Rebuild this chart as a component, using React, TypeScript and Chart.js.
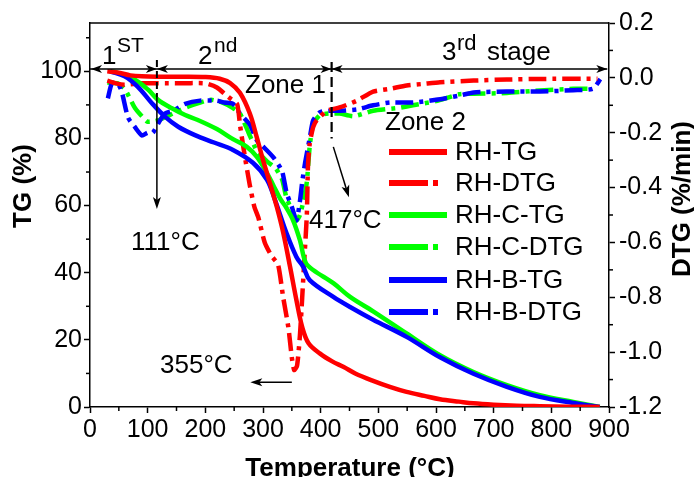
import React, { useEffect, useRef } from "react";
import { Chart, registerables } from "chart.js";

Chart.register(...registerables);

// ---------------- data ----------------
const rhTgT = [30, 50, 70, 90, 120, 160, 200, 225, 243, 260, 277, 289, 300, 312, 324, 335, 347, 358, 368, 379, 399, 420, 440, 460, 491, 520, 549, 580, 607, 640, 665, 700, 740, 780, 830, 884];
const rhTgV = [100, 99.6, 98.8, 98.5, 98.4, 98.4, 98.3, 97.8, 96.5, 93.6, 87.5, 80.5, 73.6, 66.7, 59.6, 52, 41.7, 31.8, 23.8, 19, 15.9, 13.6, 11.9, 10, 7.8, 6, 4.5, 3.3, 2.3, 1.6, 1.1, 0.7, 0.4, 0.25, 0.1, 0];

const rhDtgT = [30, 45, 60, 90, 150, 200, 220, 240, 255, 260, 268, 277, 285, 292, 303, 315, 326, 335, 344, 350, 354, 359, 364, 368, 372, 376, 378, 381, 387, 393, 411, 433, 463, 491, 520, 549, 578, 607, 665, 723, 780, 880];
const rhDtgV = [-0.01, -0.02, -0.025, -0.02, -0.02, -0.02, -0.035, -0.07, -0.095, -0.17, -0.28, -0.39, -0.47, -0.51, -0.6, -0.65, -0.68, -0.8, -0.91, -1.02, -1.065, -1.05, -0.94, -0.8, -0.65, -0.5, -0.32, -0.24, -0.18, -0.155, -0.12, -0.108, -0.083, -0.05, -0.04, -0.028, -0.022, -0.016, -0.01, -0.006, -0.004, -0.003];

const rhcTgT = [35, 49, 78, 101, 118, 142, 165, 187, 220, 248, 272, 289, 306, 318, 330, 340, 352, 364, 374, 387, 422, 451, 491, 549, 607, 665, 723, 780, 838, 884];
const rhcTgV = [100, 99.5, 97.5, 94.5, 91.5, 89, 87, 85.5, 82.8, 79.8, 77.5, 74.6, 70, 66, 62, 59.5, 55.7, 49.7, 43, 40.8, 36.9, 32.8, 28.5, 21.9, 15.4, 10.4, 6.5, 3.5, 1.5, 0];

const rhcDtgT = [30, 48, 60, 68, 78, 90, 100, 118, 144, 170, 191, 210, 230, 248, 260, 275, 290, 300, 310, 322, 333, 341, 350, 358, 364, 370, 376, 381, 387, 399, 416, 433, 457, 491, 534, 560, 600, 640, 665, 723, 780, 838, 870];
const rhcDtgV = [-0.017, -0.02, -0.04, -0.07, -0.11, -0.14, -0.16, -0.155, -0.13, -0.105, -0.09, -0.08, -0.09, -0.11, -0.13, -0.2, -0.27, -0.29, -0.31, -0.33, -0.37, -0.44, -0.48, -0.52, -0.5, -0.45, -0.38, -0.25, -0.17, -0.135, -0.13, -0.13, -0.14, -0.12, -0.11, -0.1, -0.085, -0.06, -0.058, -0.055, -0.046, -0.04, -0.04];

const rhbTgT = [35, 60, 83, 107, 130, 153, 182, 215, 248, 283, 307, 321, 341, 358, 370, 381, 422, 451, 491, 549, 607, 665, 723, 780, 838, 884];
const rhbTgV = [100, 98.5, 95.4, 90.6, 86.5, 83.5, 81, 78.8, 76.6, 72.7, 67.7, 61.6, 51.7, 44.7, 41.7, 37.8, 32.8, 29.8, 26, 20.9, 14.8, 9.9, 6, 3, 1.2, 0];

const rhbDtgT = [31, 38, 48, 55, 66, 78, 90, 100, 109, 120, 130, 144, 165, 191, 220, 233, 248, 260, 277, 290, 300, 318, 333, 341, 350, 358, 364, 368, 373, 381, 387, 399, 416, 433, 463, 491, 520, 560, 600, 640, 665, 723, 780, 838, 872, 885];
const rhbDtgV = [-0.075, -0.02, -0.02, -0.05, -0.145, -0.18, -0.21, -0.2, -0.2, -0.16, -0.13, -0.12, -0.095, -0.083, -0.083, -0.09, -0.095, -0.13, -0.17, -0.23, -0.25, -0.29, -0.34, -0.42, -0.47, -0.52, -0.45, -0.38, -0.31, -0.22, -0.155, -0.125, -0.12, -0.12, -0.115, -0.1, -0.09, -0.09, -0.08, -0.065, -0.053, -0.05, -0.05, -0.045, -0.04, -0.005];

const seriesLabels = ["RH-TG", "RH-DTG", "RH-C-TG", "RH-C-DTG", "RH-B-TG", "RH-B-DTG"];
const seriesColors = ["#ff0000", "#ff0000", "#00ff00", "#00ff00", "#0000ff", "#0000ff"];

const stageBounds = [116, 419]; // °C boundaries between stages
const peakLabels = ["111°C", "355°C", "417°C"];

const FONT = "'Liberation Sans', Arial, Helvetica, sans-serif";

const zip = (t: number[], v: number[]) => t.map((x, i) => ({ x, y: v[i] }));

function arrowHead(ctx: CanvasRenderingContext2D, x: number, y: number, ang: number, len = 11, half = 4) {
  ctx.save();
  ctx.translate(x, y);
  ctx.rotate(ang);
  ctx.beginPath();
  ctx.moveTo(0, 0);
  ctx.lineTo(-len, -half);
  ctx.lineTo(-len + 3, 0);
  ctx.lineTo(-len, half);
  ctx.closePath();
  ctx.fill();
  ctx.restore();
}

function seg(ctx: CanvasRenderingContext2D, x1: number, y1: number, x2: number, y2: number) {
  ctx.beginPath();
  ctx.moveTo(x1, y1);
  ctx.lineTo(x2, y2);
  ctx.stroke();
}

const overlayPlugin = {
  id: "overlay",
  afterDraw(chart: any) {
    const ctx: CanvasRenderingContext2D = chart.ctx;
    const { left, right, top, bottom } = chart.chartArea;
    const xs = chart.scales.x;
    const ys = chart.scales.y;
    const y1 = chart.scales.y1;
    ctx.save();
    ctx.strokeStyle = "#000";
    ctx.fillStyle = "#000";
    ctx.lineWidth = 1.5;
    // top frame
    seg(ctx, left, top, right, top);
    // minor ticks
    for (let v = 50; v < 900; v += 100) {
      const px = xs.getPixelForValue(v);
      seg(ctx, px, bottom, px, bottom + 4);
    }
    for (let v = 10; v < 115; v += 20) {
      const py = ys.getPixelForValue(v);
      seg(ctx, left, py, left - 4, py);
    }
    for (let i = -11; i <= 1; i += 2) {
      const py = y1.getPixelForValue(i / 10);
      seg(ctx, right, py, right + 4, py);
    }

    // stage arrow line
    const ay = ys.getPixelForValue(100.7);
    const sx1 = xs.getPixelForValue(stageBounds[0]);
    const sx2 = xs.getPixelForValue(stageBounds[1]);
    const endX = xs.getPixelForValue(897);
    ctx.lineWidth = 1.5;
    seg(ctx, left, ay, endX, ay);
    arrowHead(ctx, left + 1, ay, Math.PI);
    arrowHead(ctx, sx1, ay, 0);
    arrowHead(ctx, sx1, ay, Math.PI);
    arrowHead(ctx, sx2, ay, 0);
    arrowHead(ctx, sx2, ay, Math.PI);
    arrowHead(ctx, endX, ay, 0);

    // vertical at stage 1 boundary (111°C)
    ctx.lineWidth = 2;
    ctx.setLineDash([7, 4]);
    seg(ctx, sx1, ay - 9, sx1, ay + 28);
    ctx.setLineDash([]);
    ctx.lineWidth = 1.5;
    const tip1 = ys.getPixelForValue(59);
    seg(ctx, sx1, ay + 28, sx1, tip1 - 6);
    arrowHead(ctx, sx1, tip1, Math.PI / 2, 12, 4);

    // vertical dashed at zone boundary (417°C)
    ctx.lineWidth = 2.2;
    ctx.setLineDash([10, 5]);
    seg(ctx, sx2, ay - 7, sx2, ys.getPixelForValue(80));
    ctx.setLineDash([]);
    ctx.lineWidth = 1.5;
    const dx1 = xs.getPixelForValue(422), dy1 = ys.getPixelForValue(77.5);
    const dx2 = xs.getPixelForValue(449), dy2 = ys.getPixelForValue(62.5);
    seg(ctx, dx1, dy1, dx2 - (dx2 - dx1) * 0.15, dy2 - (dy2 - dy1) * 0.15);
    arrowHead(ctx, dx2, dy2, Math.atan2(dy2 - dy1, dx2 - dx1), 12, 4);

    // 355 arrow
    const hy = ys.getPixelForValue(7.4);
    const hx1 = xs.getPixelForValue(350), hx2 = xs.getPixelForValue(278);
    seg(ctx, hx1, hy, hx2 + 6, hy);
    arrowHead(ctx, hx2, hy, Math.PI, 12, 4);

    // texts
    ctx.textBaseline = "alphabetic";
    ctx.textAlign = "left";
    const t = (s: string, x: number, y: number, size = 26, bold = false) => {
      ctx.font = `${bold ? "bold " : ""}${size}px ${FONT}`;
      ctx.fillText(s, x, y);
    };
    t("1", 102, 64);
    t("ST", 117, 52, 21);
    t("2", 198, 64);
    t("nd", 214, 52, 21);
    t("3", 442, 60);
    t("rd", 457, 50, 22);
    t("stage", 487, 60);
    t("Zone 1", 245, 93);
    t("Zone 2", 385, 130);
    t(peakLabels[0], 131, 250);
    t(peakLabels[2], 309, 228);
    t(peakLabels[1], 160, 373);

    // axis titles
    ctx.font = `bold 26px ${FONT}`;
    ctx.textAlign = "center";
    ctx.fillText("Temperature (°C)", 350, 476);
    ctx.textBaseline = "middle";
    ctx.save();
    ctx.translate(24, 186);
    ctx.rotate(-Math.PI / 2);
    ctx.fillText("TG (%)", 0, 0);
    ctx.restore();
    ctx.save();
    ctx.translate(683, 199);
    ctx.rotate(-Math.PI / 2);
    ctx.fillText("DTG (%/min)", 0, 0);
    ctx.restore();

    // legend
    const rows = [152, 183, 215, 247, 280, 312];
    chart.data.datasets.forEach((ds: any, i: number) => {
      const y = rows[i];
      ctx.strokeStyle = ds.borderColor;
      ctx.lineWidth = 6;
      ctx.lineCap = "butt";
      if (ds.borderDash && ds.borderDash.length) {
        seg(ctx, 389, y, 428, y);
        seg(ctx, 433, y, 438, y);
      } else {
        seg(ctx, 389, y, 447, y);
      }
      ctx.fillStyle = "#000";
      ctx.font = `26px ${FONT}`;
      ctx.textAlign = "left";
      ctx.textBaseline = "middle";
      ctx.fillText(ds.label, 455, y + 1);
    });
    ctx.restore();
  },
};

export default function App() {
  const ref = useRef<HTMLCanvasElement | null>(null);
  useEffect(() => {
    if (!ref.current) return;
    Chart.defaults.font.family = FONT;
    Chart.defaults.color = "#000";
    const mk = (i: number, t: number[], v: number[], dtg: boolean, order: number) => ({
      label: seriesLabels[i],
      data: zip(t, v),
      borderColor: seriesColors[i],
      backgroundColor: seriesColors[i],
      borderWidth: 4.5,
      borderDash: dtg ? [18, 6, 4, 6] : [],
      pointRadius: 0,
      tension: dtg ? 0.2 : 0.35,
      yAxisID: dtg ? "y1" : "y",
      order,
      fill: false,
    });
    const chart = new Chart(ref.current, {
      type: "line",
      data: {
        datasets: [
          mk(0, rhTgT, rhTgV, false, 1),
          mk(1, rhDtgT, rhDtgV, true, 4),
          mk(2, rhcTgT, rhcTgV, false, 3),
          mk(3, rhcDtgT, rhcDtgV, true, 6),
          mk(4, rhbTgT, rhbTgV, false, 2),
          mk(5, rhbDtgT, rhbDtgV, true, 5),
        ] as any,
      },
      options: {
        responsive: false,
        animation: false,
        devicePixelRatio: 1,
        layout: { padding: { top: 23, left: 0, right: 0, bottom: 0 } },
        plugins: { legend: { display: false }, tooltip: { enabled: false } },
        scales: {
          x: {
            type: "linear",
            position: "bottom",
            min: 0,
            max: 900,
            ticks: { stepSize: 100, font: { size: 25 }, color: "#000", padding: 2, maxRotation: 0 },
            grid: { display: true, drawOnChartArea: false, drawTicks: true, tickLength: 6, tickColor: "#000", tickWidth: 1.5 },
            border: { display: true, color: "#000", width: 1.5 },
            afterFit: (s: any) => { s.height = 70; },
          },
          y: {
            type: "linear",
            position: "left",
            min: 0,
            max: 114.4,
            ticks: { stepSize: 20, includeBounds: false, font: { size: 25 }, color: "#000", padding: 2 },
            grid: { display: true, drawOnChartArea: false, drawTicks: true, tickLength: 6, tickColor: "#000", tickWidth: 1.5 },
            border: { display: true, color: "#000", width: 1.5 },
            afterFit: (s: any) => { s.width = 90; },
          },
          y1: {
            type: "linear",
            position: "right",
            min: -1.2,
            max: 0.2,
            ticks: {
              stepSize: 0.2,
              font: { size: 25 },
              color: "#000",
              padding: 4,
              callback: (v: any) => Number(v).toFixed(1),
            },
            grid: { display: true, drawOnChartArea: false, drawTicks: true, tickLength: 6, tickColor: "#000", tickWidth: 1.5 },
            border: { display: true, color: "#000", width: 1.5 },
            afterFit: (s: any) => { s.width = 85; },
          },
        },
      } as any,
      plugins: [overlayPlugin],
    });
    return () => chart.destroy();
  }, []);
  return (
    <div style={{ position: "fixed", left: 0, top: 0, width: 694, height: 477, background: "#fff" }}>
      <canvas ref={ref} width={694} height={477} style={{ display: "block" }} />
    </div>
  );
}
